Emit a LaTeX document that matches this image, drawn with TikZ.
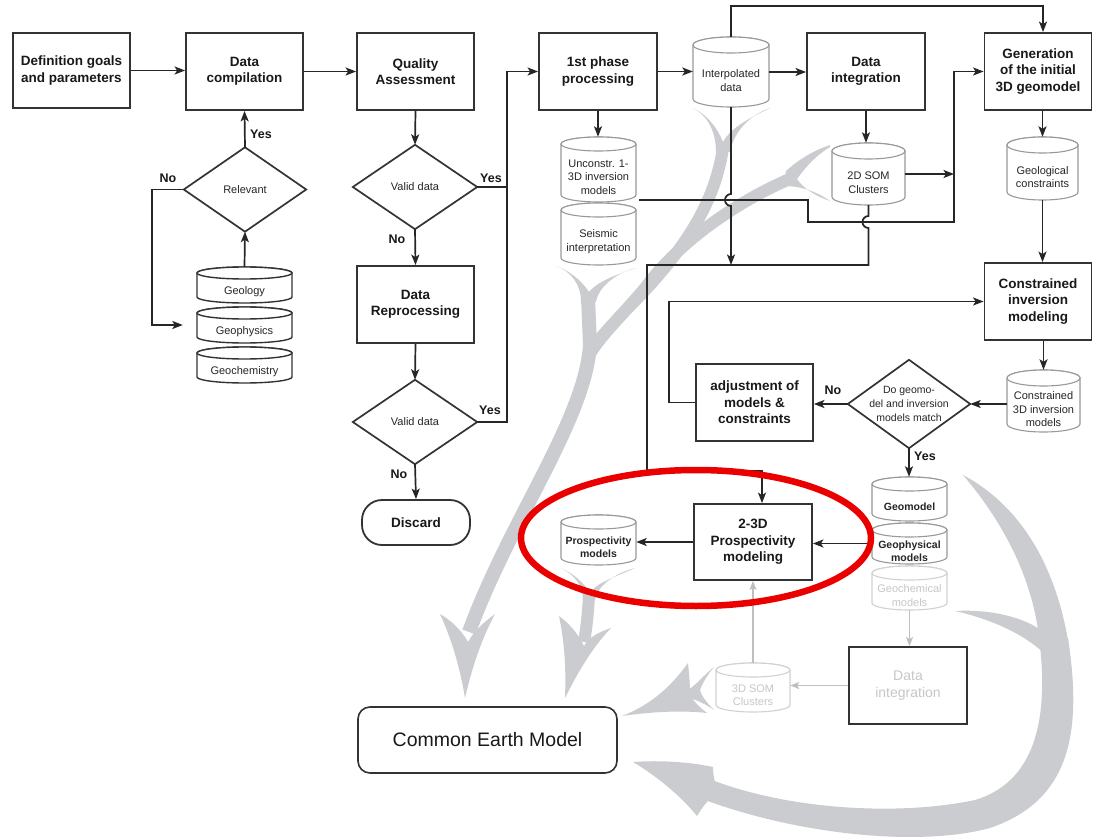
\documentclass[tikz,border=0pt]{standalone}
\usepackage{fontspec}
\setmainfont{Liberation Sans}
\usetikzlibrary{arrows.meta,shapes.geometric}
\definecolor{bandgray}{RGB}{203,204,207}
\definecolor{redmark}{RGB}{235,0,0}
\tikzset{
 box/.style={draw=black!80, line width=1.8pt, align=center, inner sep=0pt, text=black!90, font=\bfseries\fontsize{13.5}{16.5}\selectfont},
 diab/.style={rectangle, inner sep=0pt, align=center, text=black!85, font=\fontsize{11}{14}\selectfont},
 dial/.style={line width=1.7pt, draw=black!80, line join=miter},
 conn/.style={line width=1.7pt, draw=black!85},
 arr/.style={conn, -{Stealth[length=10.5pt,width=8pt,inset=2.5pt]}},
 garr/.style={line width=1.2pt, draw=black!25, -{Stealth[length=9pt,width=7pt,inset=2pt]}},
 lbl/.style={font=\bfseries\fontsize{12.5}{14}\selectfont, text=black!90, inner sep=0pt},
 cylline/.style={line width=1.1pt, draw=black!40, fill=white},
 cyldark/.style={line width=1.4pt, draw=black!80, fill=white},
 cylfaint/.style={line width=1.1pt, draw=black!18, fill=white},
 cyltext/.style={align=center, inner sep=0pt, text=black!85, font=\fontsize{11}{13.5}\selectfont},
 cytb/.style={font=\bfseries\fontsize{10.5}{13}\selectfont},
 cytfaint/.style={text=black!22},
}
% name, cx, cy, w, h, e, line style, text style, text
\newcommand\mycyl[9]{%
  \filldraw[#7] ({#2-#4/2},{#3-#5/2+#6}) -- ({#2-#4/2},{#3+#5/2-#6})
     arc[start angle=180,end angle=360,x radius={#4/2*1pt},y radius={#6*1pt}]
     -- ({#2+#4/2},{#3-#5/2+#6})
     arc[start angle=0,end angle=180,x radius={#4/2*1pt},y radius={#6*1pt}] -- cycle;
  \draw[#7] (#2,{#3-#5/2+#6}) ellipse[x radius={#4/2*1pt},y radius={#6*1pt}];
  \node[cyltext,#8,minimum width=#4pt,minimum height=#5pt] (#1) at (#2,#3) {\rule{0pt}{\numexpr9+2*#6\relax pt}#9};
}
\begin{document}
\begin{tikzpicture}[x=1pt,y=-1pt]
\useasboundingbox (0,0) rectangle (1095,837);
\fill[white] (0,0) rectangle (1095,837);

% ---------- gray flow bands ----------
% fork under interpolated data
\fill[bandgray] (693,108) .. controls (708,116) and (716,132) .. (716,152) -- (730,152) .. controls (734,130) and (752,114) .. (770,108) .. controls (752,117) and (731,127) .. (723,142) .. controls (717,127) and (706,114) .. (693,108) -- cycle;
\draw[bandgray, line width=12pt] (723,148) .. controls (715,200) and (690,240) .. (650,285) .. controls (625,312) and (600,335) .. (591,352);
% fork beside 2D SOM
\fill[bandgray] (830,145) .. controls (812,151) and (797,161) .. (786,171) -- (784,186) .. controls (800,186) and (816,191) .. (830,201) .. controls (815,196) and (803,188) .. (797,179) .. controls (807,165) and (818,154) .. (830,147) -- cycle;
\draw[bandgray, line width=12pt] (792,178) .. controls (740,200) and (680,240) .. (645,288) .. controls (622,315) and (602,335) .. (591,352);
% fork under seismic interpretation
\fill[bandgray] (556,266) .. controls (572,272) and (581,285) .. (581,302) -- (596,302) .. controls (598,288) and (615,273) .. (636,268) .. controls (615,275) and (597,282) .. (589,292) .. controls (582,281) and (570,271) .. (556,266) -- cycle;
\draw[bandgray, line width=14pt] (588,298) -- (590,345) .. controls (585,420) and (510,520) .. (469,632);
\fill[bandgray] (440,614) .. controls (452,640) and (460,668) .. (465,698) .. controls (472,668) and (481,640) .. (495,614) .. controls (484,622) and (474,631) .. (468,642) .. controls (462,631) and (452,621) .. (440,614) -- cycle;
% fork under prospectivity models
\fill[bandgray] (561,568) .. controls (575,575) and (583,586) .. (583,600) -- (595,600) .. controls (597,586) and (615,573) .. (635,568) .. controls (615,577) and (596,583) .. (590,593) .. controls (584,583) and (574,574) .. (561,568) -- cycle;
\draw[bandgray, line width=12pt] (589,596) .. controls (588,612) and (587,625) .. (584,642);
\fill[bandgray] (559,616) .. controls (565,645) and (566,670) .. (565,698) .. controls (578,672) and (592,648) .. (611,628) .. controls (599,632) and (589,637) .. (584,646) .. controls (578,634) and (570,624) .. (559,616) -- cycle;
% arrow from 3D SOM clusters
\fill[bandgray] (688,663) .. controls (670,688) and (650,705) .. (622,716) .. controls (650,712) and (680,710) .. (707,713) .. controls (698,706) and (692,700) .. (690,693) .. controls (690,684) and (689,673) .. (688,663) -- cycle;
\fill[bandgray] (714,667) .. controls (704,675) and (696,685) .. (688,690) -- (690,698) .. controls (699,701) and (707,705) .. (714,710) .. controls (706,702) and (701,695) .. (700,690) .. controls (703,682) and (708,674) .. (714,667) -- cycle;
% big right loop
\fill[bandgray] (963,475) .. controls (1010,500) and (1052,550) .. (1068,640) -- (1040,648) .. controls (1036,590) and (1010,530) .. (963,475) -- cycle;
\fill[bandgray] (955,611) .. controls (990,609) and (1025,617) .. (1045,633) -- (1052,662) .. controls (1033,638) and (995,620) .. (955,611) -- cycle;
\fill[bandgray] (1068,638) .. controls (1082,730) and (1072,800) .. (990,828) .. controls (920,847) and (800,835) .. (705,800) -- (712,780) .. controls (790,810) and (900,816) .. (975,800) .. controls (1035,782) and (1048,720) .. (1040,646) -- cycle;
\fill[bandgray] (713,767) .. controls (690,762) and (660,760) .. (633,762) .. controls (655,775) and (680,795) .. (697,816) .. controls (703,806) and (710,797) .. (719,792) .. controls (715,784) and (713,776) .. (713,767) -- cycle;

% ---------- boxes ----------
\node[box, minimum width=117pt, minimum height=75pt] (def) at (71.5,70.5) {Definition goals\\and parameters};
\node[box, minimum width=117pt, minimum height=77pt] (comp) at (244.5,71.5) {Data\\compilation};
\node[box, minimum width=117pt, minimum height=77pt] (qa) at (415.5,71.5) {Quality\\Assessment};
\node[box, minimum width=118pt, minimum height=77pt] (ph1) at (598,71.5) {1st phase\\processing};
\node[box, minimum width=118pt, minimum height=77pt] (dint) at (866,71.5) {Data\\integration};
\node[box, minimum width=107pt, minimum height=77pt] (gen) at (1038,71.5) {Generation\\of the initial\\3D geomodel};
\node[box, minimum width=117pt, minimum height=77pt] (reproc) at (415.5,304.5) {Data\\Reprocessing};
\node[box, rounded corners=20pt, minimum width=108pt, minimum height=45pt] (disc) at (416,522.5) {Discard};
\node[box, minimum width=107pt, minimum height=77pt] (cinv) at (1038,301.5) {Constrained\\inversion\\modeling};
\node[box, minimum width=117pt, minimum height=77pt] (adj) at (754.5,402.5) {adjustment of\\models \&\\constraints};
\node[box, minimum width=118pt, minimum height=76pt] (pros) at (753,542) {2-3D\\Prospectivity\\modeling};
\node[box, text=black!22, font=\fontsize{14}{17}\selectfont, minimum width=118pt, minimum height=77pt] (dint2) at (908,685.5) {Data\\integration};
\node[box, line width=1.6pt, rounded corners=12pt, font=\fontsize{19.5}{22}\selectfont, minimum width=259pt, minimum height=66pt] (cem) at (487.5,740) {Common Earth Model};

% ---------- decisions ----------
\node[diab, minimum width=122pt, minimum height=84pt] (rel) at (245,189.5) {Relevant};
\draw[dial] (rel.north) -- (rel.east) -- (rel.south) -- (rel.west) -- cycle;
\node[diab, minimum width=124pt, minimum height=84pt] (v1) at (415,187) {Valid data};
\draw[dial] (v1.north) -- (v1.east) -- (v1.south) -- (v1.west) -- cycle;
\node[diab, minimum width=124pt, minimum height=84pt] (v2) at (415,422) {Valid data};
\draw[dial] (v2.north) -- (v2.east) -- (v2.south) -- (v2.west) -- cycle;
\node[diab, font=\fontsize{10.5}{14}\selectfont, minimum width=122pt, minimum height=88pt] (m) at (909,404) {Do geomo-\\del and inversion\\models match};
\draw[dial] (m.north) -- (m.east) -- (m.south) -- (m.west) -- cycle;

% ---------- data stores ----------
\mycyl{geol}{244.5}{285}{95}{36}{6}{cyldark}{}{Geology}
\mycyl{geoph}{244.5}{325}{95}{36}{6}{cyldark}{}{Geophysics}
\mycyl{geoch}{244.5}{365}{95}{36}{6}{cyldark}{}{Geochemistry}
\mycyl{interp}{731}{72}{76}{70}{8}{cylline}{}{Interpolated\\data}
\mycyl{unc}{598.5}{169.5}{75}{65}{7}{cylline}{}{Unconstr. 1-\\3D inversion\\models}
\mycyl{seis}{598.5}{234}{75}{62}{7}{cylline}{}{Seismic\\interpretation}
\mycyl{som}{868.5}{174}{73}{62}{8}{cylline}{}{2D SOM\\Clusters}
\mycyl{geoc}{1042.5}{168.5}{71}{63}{8}{cylline}{}{Geological\\constraints}
\mycyl{cinvm}{1043.5}{401}{73}{62}{8}{cylline}{}{Constrained\\3D inversion\\models}
\mycyl{geom}{909.5}{499}{75}{44}{7}{cylline}{cytb}{Geomodel}
\mycyl{geophm}{909.5}{543.5}{75}{41}{7}{cylline}{cytb}{Geophysical\\models}
\mycyl{geochm}{909.5}{588}{75}{44}{7}{cylfaint}{cytfaint}{Geochemical\\models}
\mycyl{prosm}{598.5}{540}{75}{50}{7}{cylline}{cytb}{Prospectivity\\models}
\mycyl{somt}{753}{687.5}{74}{49}{7}{cylfaint}{cytfaint}{3D SOM\\Clusters}

% ---------- connectors ----------
\coordinate (yx) at (507,422);
\coordinate (sj) at (954,174);
\coordinate (ust) at (639,200);
\coordinate (ja) at (731,265);

\draw[arr] (def.east) -- (def.east -| comp.west);
\draw[arr] (comp.east) -- (comp.east -| qa.west);
\draw[arr] (qa.south) -- (v1.north);
\draw[arr] (v1.south) -- (reproc.north);
\draw[arr] (reproc.south) -- (v2.north);
\draw[arr] (v2.south) -- (disc.north);
\draw[arr] (v2.east) -- (yx) |- (ph1.west);
\draw[conn] (v1.east) -- (v1.east -| yx);
\draw[arr] (geol.north) -- (rel.south);
\draw[arr] (rel.north) -- (comp.south);
\draw[arr, shorten >=14pt] (rel.west) -- ++(-32,0) |- (geoph.west);
\draw[arr] (ph1.east) -- (ph1.east -| interp.west);
\draw[arr] (ph1.south) -- (ph1.south |- unc.north);
\draw[arr] (interp.east) -- (interp.east -| dint.west);
\draw[arr] (dint.south) -- (dint.south |- som.north);
\draw[arr] (som.east) -- (sj);
\draw[arr] (ust) -- (808,200) -- (808,222) -- (954,222) |- (gen.west);
\draw[arr] (interp.north) -- (731,6) -| ([xshift=5pt]gen.north);
\draw[arr] (interp.south) -- (731,194) arc[start angle=90,end angle=270,radius=6pt] -- (ja);
\draw[arr] (som.south) -- (868.5,216) arc[start angle=90,end angle=270,radius=6pt] -- (868.5,265) -- (647,265) -- (647,471) -| ([xshift=9pt]pros.north);
\draw[arr] (gen.south -| geoc.north) -- (geoc.north);
\draw[arr] (geoc.south) -- (geoc.south |- cinv.north);
\draw[arr] (cinv.south -| cinvm.north) -- (cinvm.north);
\draw[arr] (cinvm.west |- m.east) -- (m.east);
\draw[arr] (m.west) -- (m.west -| adj.east);
\draw[arr] (adj.west) -- ++(-26,0) |- (cinv.west);
\draw[arr] (m.south) -- (m.south |- geom.north);
\draw[arr] (geophm.west) -- (geophm.west -| pros.east);
\draw[arr] (pros.west) -- (pros.west -| prosm.east);
\draw[garr] (geochm.south) -- (geochm.south |- dint2.north);
\draw[garr] (dint2.west) -- (dint2.west -| somt.east);
\draw[garr] (somt.north) -- (somt.north |- pros.south);

% ---------- labels ----------
\node[lbl] (l1) at (261,134) {Yes};
\node[lbl] (l2) at (168,178) {No};
\node[lbl] (l3) at (491,178) {Yes};
\node[lbl] (l4) at (397,239) {No};
\node[lbl] (l5) at (490,410) {Yes};
\node[lbl] (l6) at (399,474) {No};
\node[lbl] (l7) at (833,390) {No};
\node[lbl] (l8) at (925,456) {Yes};

% ---------- red highlight ----------
\draw[redmark, line width=6.5pt] (696,538) ellipse[x radius=175pt, y radius=68pt];
\end{tikzpicture}
\end{document}
